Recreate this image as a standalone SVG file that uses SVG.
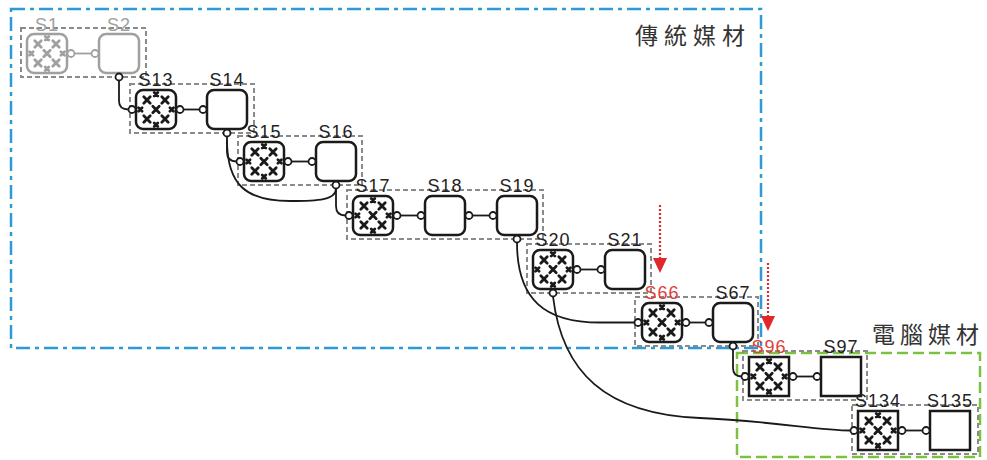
<svg xmlns="http://www.w3.org/2000/svg" xmlns:xlink="http://www.w3.org/1999/xlink" width="987" height="460" viewBox="0 0 987 460">
<style>
.region-blue{fill:none;stroke:#2b9ad6;stroke-width:2.5;stroke-dasharray:14 5 4 5}
.region-green{fill:none;stroke:#7cc241;stroke-width:2.5;stroke-dasharray:11 5}
.grp{fill:none;stroke:#8a8a8a;stroke-width:2;stroke-dasharray:5 3}
.box{fill:#fff;stroke:#1a1a1a;stroke-width:2.5}
.box.gray{stroke:#a0a0a0}
.port{fill:#fff;stroke:#1a1a1a;stroke-width:1.8}
.port.gray{stroke:#a0a0a0}
.link{fill:none;stroke:#1a1a1a;stroke-width:1.8}
.link.gray{stroke:#a0a0a0}
.lbl{font-family:"Liberation Sans",Arial,sans-serif;font-size:18px;fill:#222;text-anchor:middle;letter-spacing:1px}
.lbl.gray{fill:#a0a0a0}
.lbl.red{fill:#e0403a}
.title{font-family:"Noto Sans CJK TC","Noto Sans CJK SC",sans-serif;font-size:23px;fill:#333}
.redline{stroke:#e0282a;stroke-width:2.2;stroke-dasharray:2 2;fill:none}
</style>
<defs>
<symbol id="xh" viewBox="0 0 40 39" overflow="visible">
<g stroke="currentColor" stroke-width="2.8" stroke-linecap="round" fill="none">
<path d="M7.8,6.8 L14.2,13.2 M14.2,6.8 L7.8,13.2"/>
<path d="M25.8,6.8 L32.2,13.2 M32.2,6.8 L25.8,13.2"/>
<path d="M16.8,16.3 L23.2,22.7 M23.2,16.3 L16.8,22.7"/>
<path d="M7.8,25.8 L14.2,32.2 M14.2,25.8 L7.8,32.2"/>
<path d="M25.8,25.8 L32.2,32.2 M32.2,25.8 L25.8,32.2"/>
<path d="M18.2,2.5 L21.8,6.1 M21.8,2.5 L18.2,6.1"/>
<path d="M18.2,32.9 L21.8,36.5 M21.8,32.9 L18.2,36.5"/>
<path d="M2.5,17.7 L6.1,21.3 M6.1,17.7 L2.5,21.3"/>
<path d="M33.9,17.7 L37.5,21.3 M37.5,17.7 L33.9,21.3"/>
</g>
</symbol>
<marker id="redhead" markerUnits="userSpaceOnUse" markerWidth="16" markerHeight="16" refX="0" refY="7" orient="auto" viewBox="0 0 16 14">
<path d="M0,0 L15,7 L0,14 z" fill="#e0282a"/>
</marker>
</defs>

<!-- regions -->
<g id="regions">
<rect class="region-blue" x="11" y="9" width="750" height="339"/>
<rect class="region-green" x="737" y="353" width="243" height="104"/>
<text class="title" x="635 664 693 722" y="44">傳統媒材</text>
<text class="title" x="872 900 928 956" y="343">電腦媒材</text>
</g>

<!-- group frames -->
<g id="frames">
<rect class="grp" x="21" y="28" width="125" height="49"/>
<rect class="grp" x="130" y="84" width="124" height="49"/>
<rect class="grp" x="238" y="136" width="124" height="49"/>
<rect class="grp" x="347" y="190" width="196" height="49"/>
<rect class="grp" x="527" y="244" width="124" height="49"/>
<rect class="grp" x="635" y="297" width="123" height="49"/>
<rect class="grp" x="743" y="351" width="124" height="49"/>
<rect class="grp" x="852" y="405" width="126" height="49"/>
</g>

<!-- connectors -->
<g id="connectors">
<line class="link gray" x1="74.5" y1="53.5" x2="91.5" y2="53.5"/>
<line class="link" x1="183.5" y1="109.5" x2="199.5" y2="109.5"/>
<line class="link" x1="291.5" y1="161.5" x2="308.5" y2="161.5"/>
<line class="link" x1="400.5" y1="215.5" x2="417.5" y2="215.5"/>
<line class="link" x1="472.5" y1="215.5" x2="489.5" y2="215.5"/>
<line class="link" x1="580.5" y1="269.5" x2="597.5" y2="269.5"/>
<line class="link" x1="689.5" y1="322.5" x2="705.5" y2="322.5"/>
<line class="link" x1="796.5" y1="376.5" x2="813.5" y2="376.5"/>
<line class="link" x1="905.5" y1="430.5" x2="922.5" y2="430.5"/>
<path class="link" d="M119,80.5 L119,101 Q119,109.5 128.5,109.5"/>
<path class="link" d="M227,136.5 L227,152 Q227,161.5 236.5,161.5"/>
<path class="link" d="M227,140 C227,186 247,201 290,201 C318,201 336,200 336,188.5"/>
<path class="link" d="M336,188.5 L336,206 Q336,215.5 345.5,215.5"/>
<path class="link" d="M517,242.5 C517,300 545,322.5 600,322.5 L634.5,322.5"/>
<path class="link" d="M553,296.5 C562,372 605,414 700,418 C770,421 820,430.5 850.5,430.5"/>
<path class="link" d="M733,349.5 L733,368 Q733,376.5 741.5,376.5"/>
</g>

<!-- red arrows -->
<g id="arrows">
<line class="redline" x1="660" y1="205" x2="660" y2="258" marker-end="url(#redhead)"/>
<line class="redline" x1="768" y1="263" x2="768" y2="316" marker-end="url(#redhead)"/>
</g>

<!-- nodes -->
<g id="S1">
<rect class="box gray" x="27" y="34" width="40" height="39" rx="7"/>
<use href="#xh" xlink:href="#xh" x="27" y="34" width="40" height="39" style="color:#a0a0a0"/>
<circle class="port gray" cx="71" cy="53.5" r="3.5"/>
<text class="lbl gray" x="47" y="31">S1</text>
</g>
<g id="S2">
<rect class="box gray" x="99" y="34" width="40" height="39" rx="7"/>
<circle class="port gray" cx="95" cy="53.5" r="3.5"/>
<circle class="port" cx="119" cy="77" r="3.5"/>
<text class="lbl gray" x="119" y="31">S2</text>
</g>

<g id="S13">
<rect class="box" x="136" y="90" width="40" height="39" rx="7"/>
<use href="#xh" xlink:href="#xh" x="136" y="90" width="40" height="39" style="color:#1a1a1a"/>
<circle class="port" cx="132" cy="109.5" r="3.5"/>
<circle class="port" cx="180" cy="109.5" r="3.5"/>
<text class="lbl" x="156" y="86">S13</text>
</g>
<g id="S14">
<rect class="box" x="207" y="90" width="40" height="39" rx="7"/>
<circle class="port" cx="203" cy="109.5" r="3.5"/>
<circle class="port" cx="227" cy="133" r="3.5"/>
<text class="lbl" x="227" y="86">S14</text>
</g>

<g id="S15">
<rect class="box" x="244" y="142" width="40" height="39" rx="7"/>
<use href="#xh" xlink:href="#xh" x="244" y="142" width="40" height="39" style="color:#1a1a1a"/>
<circle class="port" cx="240" cy="161.5" r="3.5"/>
<circle class="port" cx="288" cy="161.5" r="3.5"/>
<text class="lbl" x="264" y="138">S15</text>
</g>
<g id="S16">
<rect class="box" x="316" y="142" width="40" height="39" rx="7"/>
<circle class="port" cx="312" cy="161.5" r="3.5"/>
<circle class="port" cx="336" cy="185" r="3.5"/>
<text class="lbl" x="336" y="138">S16</text>
</g>

<g id="S17">
<rect class="box" x="353" y="196" width="40" height="39" rx="7"/>
<use href="#xh" xlink:href="#xh" x="353" y="196" width="40" height="39" style="color:#1a1a1a"/>
<circle class="port" cx="349" cy="215.5" r="3.5"/>
<circle class="port" cx="397" cy="215.5" r="3.5"/>
<text class="lbl" x="373" y="192">S17</text>
</g>
<g id="S18">
<rect class="box" x="425" y="196" width="40" height="39" rx="7"/>
<circle class="port" cx="421" cy="215.5" r="3.5"/>
<circle class="port" cx="469" cy="215.5" r="3.5"/>
<text class="lbl" x="445" y="192">S18</text>
</g>
<g id="S19">
<rect class="box" x="497" y="196" width="40" height="39" rx="7"/>
<circle class="port" cx="493" cy="215.5" r="3.5"/>
<circle class="port" cx="517" cy="239" r="3.5"/>
<text class="lbl" x="517" y="192">S19</text>
</g>

<g id="S20">
<rect class="box" x="533" y="250" width="40" height="39" rx="7"/>
<use href="#xh" xlink:href="#xh" x="533" y="250" width="40" height="39" style="color:#1a1a1a"/>
<circle class="port" cx="577" cy="269.5" r="3.5"/>
<circle class="port" cx="553" cy="293" r="3.5"/>
<text class="lbl" x="553" y="246">S20</text>
</g>
<g id="S21">
<rect class="box" x="605" y="250" width="40" height="39" rx="7"/>
<circle class="port" cx="601" cy="269.5" r="3.5"/>
<text class="lbl" x="625" y="246">S21</text>
</g>

<g id="S66">
<rect class="box" x="642" y="303" width="40" height="39" rx="7"/>
<use href="#xh" xlink:href="#xh" x="642" y="303" width="40" height="39" style="color:#1a1a1a"/>
<circle class="port" cx="638" cy="322.5" r="3.5"/>
<circle class="port" cx="686" cy="322.5" r="3.5"/>
<text class="lbl red" x="662" y="299">S66</text>
</g>
<g id="S67">
<rect class="box" x="713" y="303" width="40" height="39" rx="7"/>
<circle class="port" cx="709" cy="322.5" r="3.5"/>
<circle class="port" cx="733" cy="346" r="3.5"/>
<text class="lbl" x="733" y="299">S67</text>
</g>

<g id="S96">
<rect class="box" x="749" y="357" width="40" height="39"/>
<use href="#xh" xlink:href="#xh" x="749" y="357" width="40" height="39" style="color:#1a1a1a"/>
<circle class="port" cx="745" cy="376.5" r="3.5"/>
<circle class="port" cx="793" cy="376.5" r="3.5"/>
<text class="lbl red" x="769" y="353">S96</text>
</g>
<g id="S97">
<rect class="box" x="821" y="357" width="40" height="39"/>
<circle class="port" cx="817" cy="376.5" r="3.5"/>
<text class="lbl" x="841" y="353">S97</text>
</g>

<g id="S134">
<rect class="box" x="858" y="411" width="40" height="39"/>
<use href="#xh" xlink:href="#xh" x="858" y="411" width="40" height="39" style="color:#1a1a1a"/>
<circle class="port" cx="854" cy="430.5" r="3.5"/>
<circle class="port" cx="902" cy="430.5" r="3.5"/>
<text class="lbl" x="878" y="407">S134</text>
</g>
<g id="S135">
<rect class="box" x="930" y="411" width="40" height="39"/>
<circle class="port" cx="926" cy="430.5" r="3.5"/>
<text class="lbl" x="950" y="407">S135</text>
</g>
</svg>
